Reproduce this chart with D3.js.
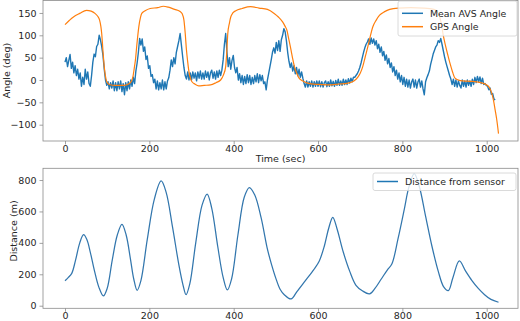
<!DOCTYPE html>
<html><head><meta charset="utf-8">
<script src="https://cdn.jsdelivr.net/npm/d3@7"></script>
<style>
body{margin:0;background:#fff;}
text{font-family:"DejaVu Sans",sans-serif;}
</style></head>
<body><svg id="c" width="520" height="321"></svg>
<script>
// ---------- DATA ----------
const xTicks = [0, 200, 400, 600, 800, 1000];
const angleTicks = [-100, -50, 0, 50, 100, 150];
const distTicks = [0, 200, 400, 600, 800];
const seriesNames = ["Mean AVS Angle", "GPS Angle"];
const distName = "Distance from sensor";

// Mean AVS angle, sampled every 3 s starting at t = 0
const avsStep = 3;
const avsValues = [
 40,50,30,44,57,26,40,16,32,10,
 24,2,16,-14,6,-10,24,2,18,-8,
 -14,10,40,58,52,75,80,100,90,75,
 55,25,0,-12,-4,-20,-6,-18,-2,-24,
 -6,-24,-4,-20,-2,-26,-8,-33,-6,-24,
 -4,-20,0,-14,6,-8,20,38,62,93,
 78,92,64,74,46,54,26,32,8,12,
 -6,2,-20,-2,-22,-6,-20,0,-22,-4,
 -20,-2,5,22,45,30,50,36,62,75,
 88,104,78,52,28,10,2,18,0,16,
 0,18,4,16,-2,18,4,20,2,16,
 2,20,6,18,0,16,22,4,18,2,
 20,6,22,10,22,45,80,104,62,30,
 50,24,44,55,28,16,28,0,14,-6,
 10,-10,8,-8,12,-6,10,-10,6,-8,
 10,-4,14,-6,12,-2,10,-8,-4,-22,
 0,15,30,45,62,72,60,84,66,88,
 64,90,100,115,108,88,62,42,28,38,
 20,32,14,28,10,24,6,18,4,-8,
 -16,-2,-16,-4,-14,-2,-16,-4,-14,-2,
 -14,-2,-15,-4,-16,-6,-2,-15,-4,-14,
 0,-13,-3,-14,-1,-12,2,-12,-2,-12,
 2,-10,0,-10,3,-7,4,-4,6,6,
 10,14,20,28,38,50,62,72,80,85,
 92,80,94,82,92,78,88,70,80,62,
 74,54,64,44,56,36,48,28,38,18,
 30,10,22,2,16,-4,10,-10,6,-14,
 2,-16,0,-18,-4,2,-16,0,-18,-4,
 2,-16,-2,-20,-33,-4,5,12,20,35,
 46,58,66,74,78,88,84,93,80,66,
 52,40,30,20,10,2,-10,2,-14,0,
 -16,-2,-12,-18,0,-14,-2,-16,0,-12,
 -2,-14,2,-10,6,-6,8,-4,7,-8,
 4,-10,-8,-12,-14,-22,-18,-32,-30,-42,
 -45
];

// GPS angle: [time (s), angle (deg)]
const gpsT = [0,10,20,35,51,62,71,78,82,85,87,90,93,96,99,105,120,140,155,161,164,167,171,175,179,182,190,202,220,233,245,260,272,278,282,285,288,291,294,297,301,308,317,330,345,358,369,376,381,384,386,390,393,398,405,420,440,460,480,496,506,516,522,526,531,536,540,544,550,555,565,575,600,622,650,671,685,694,700,706,712,718,724,730,738,746,758,770,790,820,850,875,885,892,897,902,908,913,919,925,935,944,960,976,990,1000,1007,1012,1016,1020,1024,1028];
const gpsV = [124,133,141,149,156,154,149,142,134,120,104,65,30,8,-4,-10,-12,-12,-6,7,25,45,85,119,140,149,155,160,162,165,163,158,154,148,134,105,67,40,18,5,-4,-9,-13,-12,-11,-6,0,12,30,70,104,128,141,150,155,160,164,161,158,149,141,130,120,112,90,67,47,30,14,4,-3,-7,-10,-11,-9,-7,-2,6,15,30,52,74,98,119,134,145,153,158,161,162,161,158,150,128,100,78,55,37,18,4,-1,-2,-3,-4,-7,-11,-18,-30,-45,-67,-90,-120];

// Distance from sensor: [time (s), distance (m)]
const distT = [0,8,16,25,35,44,52,60,70,80,91,100,112,124,135,145,155,163,171,180,195,212,228,240,255,270,280,287,296,310,325,337,348,362,375,385,395,410,425,437,450,465,480,490,500,510,520,536,550,570,590,603,615,625,635,645,660,675,690,705,722,735,750,765,775,790,805,815,828,840,855,870,885,898,909,920,935,950,965,980,995,1010,1028];
const distV = [159,180,206,290,400,452,420,340,220,120,62,110,290,450,518,450,300,170,98,160,420,680,794,720,500,260,130,70,140,400,640,711,620,380,180,100,170,450,690,752,705,560,360,260,174,105,70,43,90,160,230,285,380,490,563,490,340,220,130,95,75,110,170,230,265,430,620,750,840,760,570,380,220,120,96,180,285,220,160,110,70,40,22];

// ---------- DRAW ----------
const svg = d3.select("#c");
const C1 = "#1f77b4", C2 = "#ff7f0e";
const spine = "#8a8a8a", txt = "#262626", FS = 9.5;

const L = 43, R = 518;
const x = d3.scaleLinear().domain([-52.2, 1074.2]).range([L, R]);
const top1 = 0.5, bot1 = 141;
const y1 = d3.scaleLinear().domain([179, -136.5]).range([0, 141]);
const top2 = 168.3, bot2 = 308.3;
const y2 = d3.scaleLinear().domain([874.6, -16.5]).range([top2, bot2]);

const defs = svg.append("defs");
defs.append("clipPath").attr("id","cp1").append("rect").attr("x",L).attr("y",top1).attr("width",R-L).attr("height",bot1-top1);
defs.append("clipPath").attr("id","cp2").append("rect").attr("x",L).attr("y",top2).attr("width",R-L).attr("height",bot2-top2);

const fmt = d => d < 0 ? "\u2212" + Math.abs(d) : String(d);

function axes(y, top, bot, yt, xpad) {
  const gx = svg.append("g").attr("transform", `translate(0,${bot})`)
    .call(d3.axisBottom(x).tickValues(xTicks).tickSize(3.5).tickPadding(xpad).tickFormat(fmt));
  const gy = svg.append("g").attr("transform", `translate(${L},0)`)
    .call(d3.axisLeft(y).tickValues(yt).tickSize(3.5).tickPadding(3).tickFormat(fmt));
  [gx, gy].forEach(g => {
    g.select(".domain").remove();
    g.selectAll("line").attr("stroke", spine).attr("stroke-width", 0.8);
    g.selectAll("text").attr("fill", txt).style("font-size", FS + "px").style("font-family", "DejaVu Sans");
  });
  svg.append("rect").attr("x", L).attr("y", top).attr("width", R - L).attr("height", bot - top)
    .attr("fill", "none").attr("stroke", spine).attr("stroke-width", 0.8);
}

// top panel
const avsData = avsValues.map((v, i) => [i * avsStep, v]);
const gpsData = gpsT.map((t, i) => [t, gpsV[i]]);
const line1 = d3.line().x(d => x(d[0])).y(d => y1(d[1]));
const p1 = svg.append("g").attr("clip-path", "url(#cp1)");
p1.append("path").datum(avsData).attr("d", line1).attr("fill","none").attr("stroke",C1).attr("stroke-width",1.4).attr("stroke-linejoin","round");
p1.append("path").datum(gpsData).attr("d", line1.curve(d3.curveMonotoneX)).attr("fill","none").attr("stroke",C2).attr("stroke-width",1.2);
axes(y1, top1, bot1, angleTicks, 1.2);

// bottom panel
const distData = distT.map((t, i) => [t, distV[i]]);
const line2 = d3.line().x(d => x(d[0])).y(d => y2(d[1])).curve(d3.curveCatmullRom.alpha(0.5));
svg.append("g").attr("clip-path", "url(#cp2)").append("path").datum(distData).attr("d", line2)
  .attr("fill","none").attr("stroke","#3276ad").attr("stroke-width",1.25);
axes(y2, top2, bot2, distTicks, 0.3);

// labels
svg.append("text").attr("x", (L + R) / 2).attr("y", 162).attr("text-anchor","middle")
  .attr("fill", txt).style("font-size", FS + "px").text("Time (sec)");
svg.append("text").attr("transform", `translate(9.5,70.5) rotate(-90)`).attr("text-anchor","middle")
  .attr("fill", txt).style("font-size", FS + "px").text("Angle (deg)");
svg.append("text").attr("transform", `translate(17,231) rotate(-90)`).attr("text-anchor","middle")
  .attr("fill", txt).style("font-size", FS + "px").text("Distance (m)");

// legends
function legend(x0, y0, w, h, items) {
  svg.append("rect").attr("x", x0).attr("y", y0).attr("width", w).attr("height", h).attr("rx", 2)
    .attr("fill", "#fff").attr("fill-opacity", 0.8).attr("stroke", "#d0d0d0").attr("stroke-width", 0.8);
  items.forEach(it => {
    svg.append("line").attr("x1", x0 + 4).attr("x2", x0 + 25).attr("y1", it.y).attr("y2", it.y)
      .attr("stroke", it.c).attr("stroke-width", 1.5);
    svg.append("text").attr("x", x0 + 32).attr("y", it.y + 3.4).attr("fill", txt)
      .style("font-size", "9.4px").text(it.n);
  });
}
legend(398, 1, 119, 35, [{y: 13.3, c: C1, n: seriesNames[0]}, {y: 26.7, c: C2, n: seriesNames[1]}]);
legend(373, 173, 143, 17.5, [{y: 181.5, c: C1, n: distName}]);
</script></body></html>
